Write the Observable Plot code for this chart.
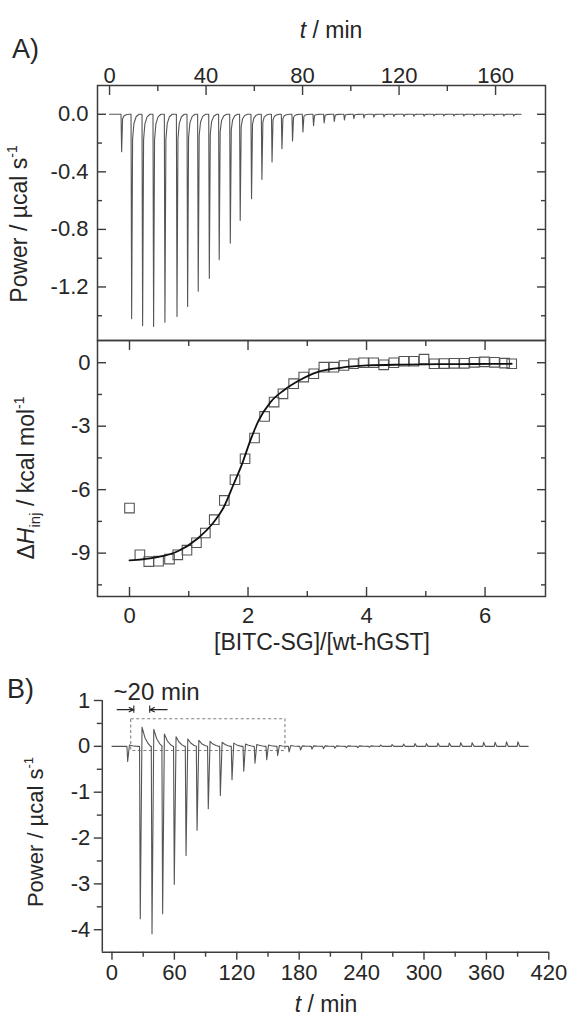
<!DOCTYPE html>
<html><head><meta charset="utf-8">
<script src="https://cdn.jsdelivr.net/npm/d3@7"></script>
<script src="https://cdn.jsdelivr.net/npm/@observablehq/plot@0.6"></script>
<style>
body{margin:0;background:#fff;}
#wrap{position:relative;width:570px;height:1018px;}
#wrap svg{position:absolute;left:0;top:0;}
</style></head><body><div id="wrap"></div>
<script>
// ---------- Panel A (top): raw ITC power trace ----------
const injTimeA = [4.85, 9.0, 13.55, 18.1, 22.8, 27.8, 32.2, 36.6, 41.2, 45.3, 49.9, 54.0, 58.7, 63.0, 67.2, 71.3, 75.7, 80.0, 84.4, 88.8, 93.0, 97.2, 101.1, 105.3, 109.4, 113.6, 117.7, 121.9, 126.0, 130.2, 134.3, 138.4, 142.6, 146.7, 150.9, 155.0, 159.2, 163.3, 167.4];
const injPeakA = [-0.26, -1.42, -1.47, -1.475, -1.445, -1.405, -1.336, -1.23, -1.14, -1.01, -0.895, -0.737, -0.587, -0.452, -0.332, -0.239, -0.186, -0.123, -0.08, -0.06, -0.05, -0.04, -0.03, -0.025, -0.02, -0.018, -0.016, -0.015, -0.014, -0.013, -0.012, -0.012, -0.012, -0.012, -0.012, -0.012, -0.012, -0.012, -0.012];
const traceSpanA = [0, 169.5];
const timeTicksA = [0, 40, 80, 120, 160];
const timeMinorA = [20, 60, 100, 140];
const powerTicksA = [0, -0.4, -0.8, -1.2];
const powerMinorA = [-0.2, -0.6, -1.0, -1.4];

// ---------- Panel A (bottom): integrated heats ----------
const ratio = [0.0, 0.175, 0.325, 0.49, 0.675, 0.815, 0.97, 1.13, 1.28, 1.43, 1.60, 1.78, 1.95, 2.11, 2.28, 2.44, 2.59, 2.77, 2.94, 3.11, 3.28, 3.45, 3.62, 3.78, 3.95, 4.12, 4.29, 4.46, 4.63, 4.80, 4.97, 5.14, 5.31, 5.48, 5.65, 5.82, 5.99, 6.16, 6.33, 6.45];
const dH = [-6.87, -9.08, -9.40, -9.38, -9.28, -9.08, -8.86, -8.51, -8.05, -7.42, -6.51, -5.53, -4.54, -3.56, -2.54, -1.86, -1.47, -0.99, -0.68, -0.52, -0.21, -0.21, -0.13, -0.05, 0.0, 0.0, -0.10, 0.0, 0.07, 0.07, 0.17, -0.05, -0.04, -0.03, -0.03, 0.02, 0.04, 0.02, -0.02, -0.05];
const fitRatio = [0.0, 0.2, 0.47, 0.815, 1.14, 1.42, 1.59, 1.76, 1.90, 2.04, 2.18, 2.38, 2.60, 2.86, 3.17, 3.56, 4.01, 4.6, 5.2, 5.8, 6.45];
const fitDH = [-9.34, -9.30, -9.19, -8.91, -8.33, -7.54, -6.83, -5.72, -4.78, -3.67, -2.73, -1.86, -1.31, -0.84, -0.44, -0.24, -0.13, -0.09, -0.07, -0.06, -0.05];
const ratioTicks = [0, 2, 4, 6];
const ratioMinor = [1, 3, 5];
const dHTicks = [0, -3, -6, -9];
const dHMinor = [-1.5, -4.5, -7.5, -10.5];

// ---------- Panel B: raw ITC power trace ----------
const injTimeB = [14.6, 26.7, 38.0, 48.2, 59.4, 70.7, 81.3, 92.1, 103.7, 114.9, 126.2, 137.0, 148.3, 158.8, 169.8, 180.8, 191.8, 202.8, 213.8, 224.8, 235.8, 246.8, 257.8, 268.8, 279.8, 290.8, 301.8, 312.8, 323.8, 334.8, 345.8, 356.8, 367.8, 378.8, 389.8];
const injPeakB = [-0.33, -3.76, -4.09, -3.65, -3.01, -2.38, -1.83, -1.36, -1.07, -0.73, -0.54, -0.37, -0.29, -0.20, -0.12, -0.08, -0.06, -0.05, -0.04, -0.03, -0.03, -0.02, 0.03, 0.04, 0.05, 0.06, 0.06, 0.07, 0.07, 0.08, 0.08, 0.09, 0.09, 0.10, 0.10];
const overshootB = [0.03, 0.42, 0.37, 0.27, 0.21, 0.16, 0.13, 0.11, 0.09, 0.07, 0.05, 0.04, 0.03, 0.02, 0.02, 0.01, 0.01, 0.01, 0.01, 0.01, 0.01, 0.01, 0, 0, 0, 0, 0, 0, 0, 0, 0, 0, 0, 0, 0];
const traceSpanB = [0, 395];
const boxT = [18.5, 166.8];
const boxP = [-0.1, 0.59];
const arrowFrom = [5, 53];
const arrowTo = [21, 36.3];
const arrowLevel = [0.8];
const barLevel = [0.72, 0.88];
const noteAt = {t: 1.5, p: 1.02, text: "~20 min"};
const timeTicksB = [0, 60, 120, 180, 240, 300, 360, 420];
const timeMinorB = [30, 90, 150, 210, 270, 330, 390];
const powerTicksB = [1, 0, -1, -2, -3, -4];
const powerMinorB = [0.5, -0.5, -1.5, -2.5, -3.5];

// ---------- styling ----------
const FONT = "'Liberation Sans', Arial, Helvetica, sans-serif";
const INK = "#262626";
const FRAME = "#3c3c3c";
const W = 570, H = 1018;
const baseStyle = {background: "transparent", overflow: "visible", fontFamily: FONT, fontSize: "22px", color: INK};
const blank = () => "";
const fmt1 = d => d.toFixed(1);
const fmt0 = d => String(d);

// build line tables from the injection arrays
function traceA() {
  const rows = [{t: traceSpanA[0], p: 0}];
  injTimeA.forEach((t, i) => {
    const d = injPeakA[i];
    rows.push({t: t - 0.1, p: 0}, {t: t + 0.15, p: d}, {t: t + 0.55, p: d * 0.12},
              {t: t + 1.1, p: d * 0.045}, {t: t + 2.0, p: d * 0.012}, {t: t + 3.2, p: 0});
  });
  rows.push({t: traceSpanA[1], p: 0});
  return rows;
}
function traceB() {
  const rows = [{t: traceSpanB[0], p: 0}];
  injTimeB.forEach((t, i) => {
    const d = injPeakB[i], o = overshootB[i];
    rows.push({t: t - 0.2, p: 0}, {t: t + 0.5, p: d}, {t: t + 2.2, p: o},
              {t: t + 5, p: o * 0.45}, {t: t + 8, p: o * 0.15}, {t: t + 10.4, p: 0});
  });
  rows.push({t: traceSpanB[1], p: 0});
  return rows;
}

const wrap = document.getElementById("wrap");

// Panel A top
const pA1 = Plot.plot({
  width: W, height: H, marginLeft: 97, marginRight: 25, marginTop: 85, marginBottom: H - 340,
  style: baseStyle,
  x: {domain: [-5, 180.7]},
  y: {domain: [-1.572, 0.2]},
  marks: [
    Plot.line(traceA(), {x: "t", y: "p", stroke: "#555", strokeWidth: 1.1}),
    Plot.frame({stroke: FRAME, strokeWidth: 1.5}),
    Plot.axisX(timeTicksA, {anchor: "top", tickSize: -9, tickPadding: 12, label: null, stroke: FRAME, fill: INK, strokeWidth: 1.4}),
    Plot.axisX(timeMinorA, {anchor: "top", tickSize: -5, tickFormat: blank, label: null, stroke: FRAME, strokeWidth: 1.4}),
    Plot.axisY(powerTicksA, {anchor: "left", tickSize: -9, tickPadding: 18, tickFormat: fmt1, label: null, stroke: FRAME, fill: INK, strokeWidth: 1.4}),
    Plot.axisY(powerMinorA, {anchor: "left", tickSize: -5, tickFormat: blank, label: null, stroke: FRAME, strokeWidth: 1.4}),
    Plot.axisY(powerTicksA, {anchor: "right", tickSize: -9, tickFormat: blank, label: null, stroke: FRAME, strokeWidth: 1.4}),
    Plot.axisY(powerMinorA, {anchor: "right", tickSize: -5, tickFormat: blank, label: null, stroke: FRAME, strokeWidth: 1.4})
  ]
});

// Panel A bottom
const isoRows = ratio.map((r, i) => ({r, h: dH[i]}));
const fitRows = fitRatio.map((r, i) => ({r, h: fitDH[i]}));
const pA2 = Plot.plot({
  width: W, height: H, marginLeft: 97, marginRight: 25, marginTop: 340, marginBottom: H - 596,
  style: baseStyle,
  x: {domain: [-0.54, 7.02]},
  y: {domain: [-11.05, 1.05]},
  marks: [
    Plot.dot(isoRows, {x: "r", y: "h", symbol: "square", r: 5.4, stroke: "#555", strokeWidth: 1.1, fill: "none"}),
    Plot.line(fitRows, {x: "r", y: "h", stroke: "#111", strokeWidth: 1.8, curve: "monotone-x"}),
    Plot.frame({stroke: FRAME, strokeWidth: 1.5}),
    Plot.axisX(ratioTicks, {anchor: "bottom", tickSize: -9, tickPadding: 20, tickFormat: fmt0, label: null, stroke: FRAME, fill: INK, strokeWidth: 1.4}),
    Plot.axisX(ratioMinor, {anchor: "bottom", tickSize: -5, tickFormat: blank, label: null, stroke: FRAME, strokeWidth: 1.4}),
    Plot.axisX(ratioTicks, {anchor: "top", tickSize: -9, tickFormat: blank, label: null, stroke: FRAME, strokeWidth: 1.4}),
    Plot.axisX(ratioMinor, {anchor: "top", tickSize: -5, tickFormat: blank, label: null, stroke: FRAME, strokeWidth: 1.4}),
    Plot.axisY(dHTicks, {anchor: "left", tickSize: -9, tickPadding: 16, tickFormat: fmt0, label: null, stroke: FRAME, fill: INK, strokeWidth: 1.4}),
    Plot.axisY(dHMinor, {anchor: "left", tickSize: -5, tickFormat: blank, label: null, stroke: FRAME, strokeWidth: 1.4}),
    Plot.axisY(dHTicks, {anchor: "right", tickSize: -9, tickFormat: blank, label: null, stroke: FRAME, strokeWidth: 1.4}),
    Plot.axisY(dHMinor, {anchor: "right", tickSize: -5, tickFormat: blank, label: null, stroke: FRAME, strokeWidth: 1.4})
  ]
});

// Panel B
const xBdom = [-9.3, 420], yBdom = [-4.49, 1];
const pB = Plot.plot({
  width: W, height: H, marginLeft: 101.8, marginRight: W - 548.3, marginTop: 700, marginBottom: H - 951.7,
  style: baseStyle,
  x: {domain: xBdom},
  y: {domain: yBdom},
  marks: [
    Plot.rect([0], {x1: () => boxT[0], x2: () => boxT[1], y1: () => boxP[0], y2: () => boxP[1], fill: "none", stroke: "#808080", strokeWidth: 1.1, strokeDasharray: "3,2.5"}),
    Plot.line(traceB(), {x: "t", y: "p", stroke: "#555", strokeWidth: 1.1}),
    Plot.ruleX([xBdom[0]], {y1: yBdom[0], y2: yBdom[1], stroke: FRAME, strokeWidth: 1.5}),
    Plot.ruleY([yBdom[0]], {x1: xBdom[0], x2: xBdom[1], stroke: FRAME, strokeWidth: 1.5}),
    Plot.arrow(arrowFrom, {x1: d => d, x2: (d, i) => arrowTo[i], y1: () => arrowLevel[0], y2: () => arrowLevel[0], stroke: INK, strokeWidth: 1.1, headLength: 7, headAngle: 50}),
    Plot.ruleX(arrowTo, {y1: barLevel[0], y2: barLevel[1], stroke: INK, strokeWidth: 1.1}),
    Plot.text([noteAt], {x: "t", y: "p", text: "text", textAnchor: "start", lineAnchor: "bottom", fontSize: 24, fill: INK}),
    Plot.axisX(timeTicksB, {anchor: "bottom", tickSize: 8, tickPadding: 4, tickFormat: fmt0, label: null, stroke: FRAME, fill: INK, strokeWidth: 1.4}),
    Plot.axisX(timeMinorB, {anchor: "bottom", tickSize: 5, tickFormat: blank, label: null, stroke: FRAME, strokeWidth: 1.4}),
    Plot.axisY(powerTicksB, {anchor: "left", tickSize: 8, tickPadding: 4, tickFormat: fmt0, label: null, stroke: FRAME, fill: INK, strokeWidth: 1.4}),
    Plot.axisY(powerMinorB, {anchor: "left", tickSize: 5, tickFormat: blank, label: null, stroke: FRAME, strokeWidth: 1.4})
  ]
});

wrap.append(pA1, pA2, pB);

// ---------- text labels (rich text) ----------
const ov = d3.select(wrap).append("svg").attr("width", W).attr("height", H)
  .style("font-family", FONT).style("fill", INK).style("overflow", "visible");

function label(x, y, size, parts, rotate = false, anchor = "middle") {
  const t = ov.append("text").attr("text-anchor", anchor).attr("font-size", size)
    .attr("transform", `translate(${x},${y})` + (rotate ? " rotate(-90)" : ""));
  parts.forEach(p => {
    const s = t.append("tspan").text(p.s);
    if (p.i) s.attr("font-style", "italic");
    if (p.dy) s.attr("dy", p.dy);
    if (p.fs) s.attr("font-size", p.fs);
  });
}
label(12, 58, 27, [{s: "A)"}], false, "start");
label(7, 698, 27, [{s: "B)"}], false, "start");
label(331, 38, 23, [{s: "t", i: true}, {s: " / min"}]);
label(27, 224, 23, [{s: "Power / µcal s"}, {s: "-1", dy: -10, fs: 14}], true);
label(34, 478, 23, [{s: "Δ"}, {s: "H", i: true}, {s: "inj", dy: 6, fs: 15}, {s: " / kcal mol", dy: -6}, {s: "-1", dy: -10, fs: 14}], true);
label(322, 650, 23, [{s: "[BITC-SG]/[wt-hGST]"}]);
label(43, 832, 22, [{s: "Power / µcal s"}, {s: "-1", dy: -10, fs: 13}], true);
label(326, 1012, 23, [{s: "t", i: true}, {s: " / min"}]);
</script></body></html>
